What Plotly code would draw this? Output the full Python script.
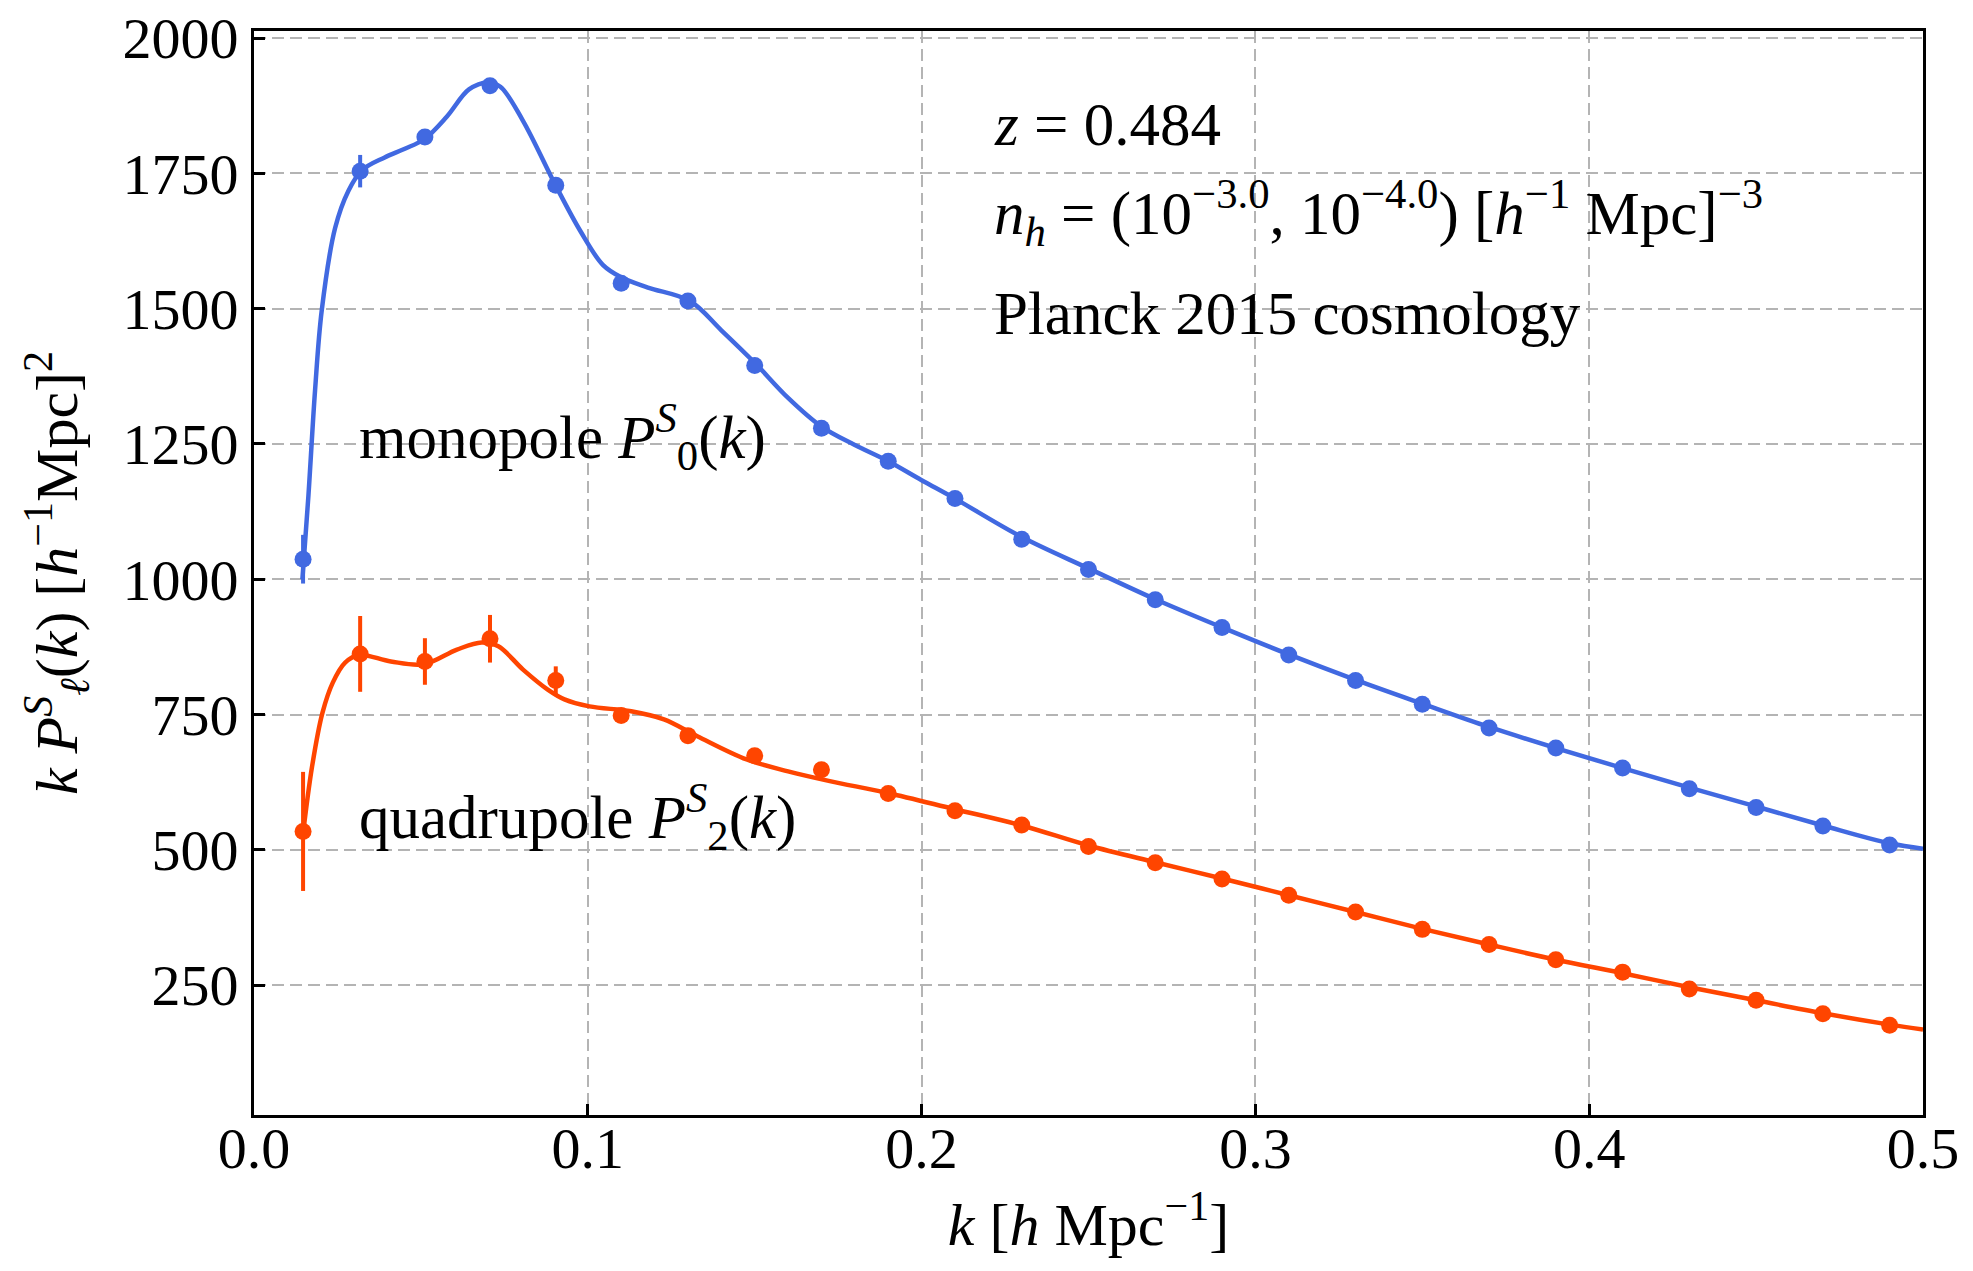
import plotly.graph_objects as go

# ---- data ----
k_data = [0.0147, 0.0318, 0.0512, 0.0707, 0.0904, 0.11, 0.13, 0.15, 0.17, 0.19, 0.21,
          0.23, 0.25, 0.27, 0.29, 0.31, 0.33, 0.35, 0.37, 0.39, 0.41, 0.43, 0.45, 0.47, 0.49]
mono_data = [1037, 1754, 1817, 1912, 1728, 1547, 1514, 1395, 1279, 1218, 1149,
             1074, 1018, 962, 911, 860, 813, 769, 725, 688, 651, 613, 578, 544, 509]
mono_err = [45, 30, 9, 8, 5, 4, 4, 3, 3, 3, 3, 3, 3, 2, 2, 2, 2, 2, 2, 2, 2, 2, 2, 2, 2]
quad_data = [534, 862, 848, 890, 813, 748, 711, 674, 648, 604, 572,
             546, 506, 476, 446, 416, 385, 353, 325, 297, 274, 243, 222, 197, 176]
quad_err = [110, 70, 43, 44, 26, 10, 9, 7, 6, 5, 5, 5, 4, 4, 4, 4, 3, 3, 3, 3, 3, 3, 3, 3, 3]

k_mono_model = [0.0145, 0.0163, 0.0183, 0.0203, 0.0243, 0.0283, 0.0324, 0.039, 0.045, 0.051,
                0.0578, 0.0644, 0.07, 0.0738, 0.0805, 0.0905, 0.0979, 0.1045, 0.11, 0.118,
                0.1306, 0.14, 0.15, 0.16, 0.17, 0.18, 0.19, 0.2, 0.21, 0.23, 0.25, 0.27,
                0.29, 0.31, 0.33, 0.35, 0.37, 0.39, 0.41, 0.43, 0.45, 0.47, 0.49, 0.5]
mono_model = [1000, 1154, 1350, 1497, 1649, 1718, 1756, 1779, 1795, 1813,
              1855, 1905, 1918, 1910, 1848, 1726, 1642, 1581, 1558, 1539,
              1514, 1460, 1400, 1335, 1282, 1248, 1218, 1183, 1149, 1078, 1020, 963,
              911, 861, 814, 770, 727, 688, 651, 615, 580, 545, 512, 502]

k_quad_model = [0.0146, 0.0174, 0.0205, 0.0236, 0.0273, 0.0316, 0.041, 0.0509, 0.0608, 0.0682,
                0.0732, 0.0806, 0.088, 0.093, 0.1005, 0.113, 0.1228, 0.1328, 0.1476, 0.16,
                0.1725, 0.1898, 0.21, 0.23, 0.25, 0.27, 0.29, 0.31, 0.33, 0.35, 0.37, 0.39,
                0.41, 0.43, 0.45, 0.47, 0.49, 0.5]
quad_model = [525, 654, 753, 809, 846, 860, 848, 843, 870, 883,
              876, 833, 796, 778, 765, 756, 741, 710, 667, 645,
              627, 605, 575, 545, 508, 477, 447, 416, 385, 354, 325, 297,
              272, 246, 222, 198, 177, 168]

x_ticks = [0.0, 0.1, 0.2, 0.3, 0.4, 0.5]
x_ticklabels = ["0.0", "0.1", "0.2", "0.3", "0.4", "0.5"]
y_ticks = [250, 500, 750, 1000, 1250, 1500, 1750, 2000]
y_ticklabels = ["250", "500", "750", "1000", "1250", "1500", "1750", "2000"]

BLUE = "#4169E1"
RED = "#FF4500"
FONT = "Liberation Serif"

fig = go.Figure()
fig.add_trace(go.Scatter(x=k_mono_model, y=mono_model, mode="lines",
                         line=dict(color=BLUE, width=4.5, shape="spline", smoothing=1.0),
                         showlegend=False, hoverinfo="skip"))
fig.add_trace(go.Scatter(x=k_quad_model, y=quad_model, mode="lines",
                         line=dict(color=RED, width=4.5, shape="spline", smoothing=1.0),
                         showlegend=False, hoverinfo="skip"))
fig.add_trace(go.Scatter(x=k_data, y=mono_data, mode="markers",
                         marker=dict(color=BLUE, size=17),
                         error_y=dict(type="data", array=mono_err, color=BLUE, thickness=4, width=0),
                         showlegend=False))
fig.add_trace(go.Scatter(x=k_data, y=quad_data, mode="markers",
                         marker=dict(color=RED, size=17),
                         error_y=dict(type="data", array=quad_err, color=RED, thickness=4, width=0),
                         showlegend=False))

axis_common = dict(
    showline=True, linecolor="black", linewidth=3, mirror=True,
    ticks="inside", ticklen=11, tickwidth=3, tickcolor="black",
    showgrid=True, gridcolor="#b4b4b4", gridwidth=2, griddash="12px,6px",
    zeroline=False, tickfont=dict(family=FONT, size=58, color="black"),
    automargin=False,
)

fig.update_xaxes(range=[0, 0.5], tickvals=x_ticks, ticktext=x_ticklabels,
                 title=dict(text="<i>k</i> [<i>h</i> Mpc<sup>−1</sup>]",
                            font=dict(family=FONT, size=60, color="black"), standoff=24),
                 ticklabelstandoff=-20, **axis_common)
fig.update_yaxes(range=[10, 2013], tickvals=y_ticks, ticktext=y_ticklabels,
                 title=dict(text="<i>k P</i><sup><i>S</i></sup><sub><i>ℓ</i></sub>(<i>k</i>) [<i>h</i><sup>−1</sup>Mpc]<sup>2</sup>",
                            font=dict(family=FONT, size=60, color="black"), standoff=26),
                 ticklabelstandoff=1, **axis_common)

ann_font = dict(family=FONT, size=61, color="black")
annotations = [
    dict(x=0.221, y=1840, text="<i>z</i> = 0.484"),
    dict(x=0.221, y=1677, text="<i>n<sub>h</sub></i> = (10<sup>−3.0</sup>, 10<sup>−4.0</sup>) [<i>h</i><sup>−1</sup> Mpc]<sup>−3</sup>"),
    dict(x=0.221, y=1491, text="Planck 2015 cosmology"),
    dict(x=0.031, y=1263, text="monopole <i>P</i><sup><i>S</i></sup><sub>0</sub>(<i>k</i>)"),
    dict(x=0.031, y=562, text="quadrupole <i>P</i><sup><i>S</i></sup><sub>2</sub>(<i>k</i>)"),
]
for a in annotations:
    fig.add_annotation(x=a["x"], y=a["y"], text=a["text"], xref="x", yref="y",
                       xanchor="left", yanchor="middle", showarrow=False, font=ann_font)

fig.update_layout(
    width=1973, height=1271,
    margin=dict(l=254, r=50, t=31, b=156, autoexpand=False),
    plot_bgcolor="white", paper_bgcolor="white",
    font=dict(family=FONT, color="black"),
)

fig.write_html("out.html", config={"displayModeBar": False},
               post_script="document.body.style.margin='0';document.body.style.overflow='hidden';")
